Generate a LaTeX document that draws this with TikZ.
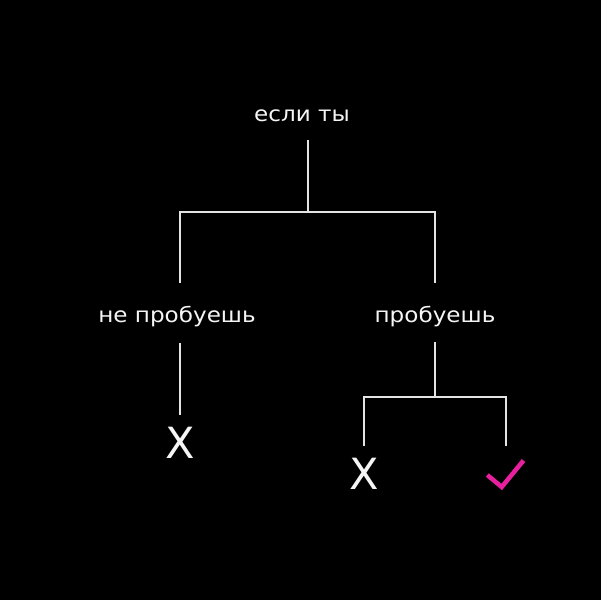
\documentclass[tikz,border=0pt]{standalone}
\usepackage{fontspec}
\usetikzlibrary{calc}
\newfontfamily\lblfont[FakeStretch=1.1]{DejaVu Sans}
\newfontfamily\markfont{DejaVu Sans}
\definecolor{linegray}{RGB}{228,228,228}
\definecolor{txtwhite}{RGB}{245,245,245}
\definecolor{chkpink}{RGB}{232,32,160}
\begin{document}
\begin{tikzpicture}[x=1pt,y=-1pt,
  lbl/.style={inner sep=0pt, anchor=base, text=txtwhite, font=\lblfont\fontsize{21}{25}\selectfont},
  xmark/.style={inner sep=0pt, anchor=center, text=txtwhite, font=\markfont\fontsize{43}{48}\selectfont},
  conn/.style={draw=linegray, line width=2pt},
  chkline/.style={draw=chkpink, line width=4.5pt, line join=miter}]
\fill[black] (0,0) rectangle (601,600);
\useasboundingbox (0,0) rectangle (601,600);

\node[lbl] (top) at (302,121) {если ты};
\node[lbl] (no) at (177,322) {не пробуешь};
\node[lbl] (yes) at (435,322) {пробуешь};
\node[xmark] (x1) at (180,442.5) {X};
\node[xmark] (x2) at (364,474) {X};
\node[inner sep=0pt, minimum width=37pt, minimum height=27pt] (chk) at (505.5,474) {};

% connector points
\coordinate (t0) at (308,140);
\coordinate (j1) at (308,212);
\coordinate (jl) at (180,212);
\coordinate (jr) at (435,212);
\coordinate (nl) at (180,283);
\coordinate (nr) at (435,283);
\coordinate (n2) at (180,343);
\coordinate (x1t) at (180,415);
\coordinate (y0) at (435,342);
\coordinate (j2) at (435,397);
\coordinate (j2l) at (364,397);
\coordinate (j2r) at (506,397);
\coordinate (x2t) at (364,446);
\coordinate (ct) at (506,446);

\draw[conn] (t0) -- (j1);
\draw[conn] (nl) -- (jl) -- (jr) -- (nr);
\draw[conn] (n2) -- (x1t);
\draw[conn] (y0) -- (j2);
\draw[conn] (x2t) -- (j2l) -- (j2r) -- (ct);

\draw[chkline] ($(chk.center)+(-18.2,1)$) -- ($(chk.center)+(-3.8,13)$) -- ($(chk.center)+(18,-13.5)$);
\end{tikzpicture}
\end{document}
